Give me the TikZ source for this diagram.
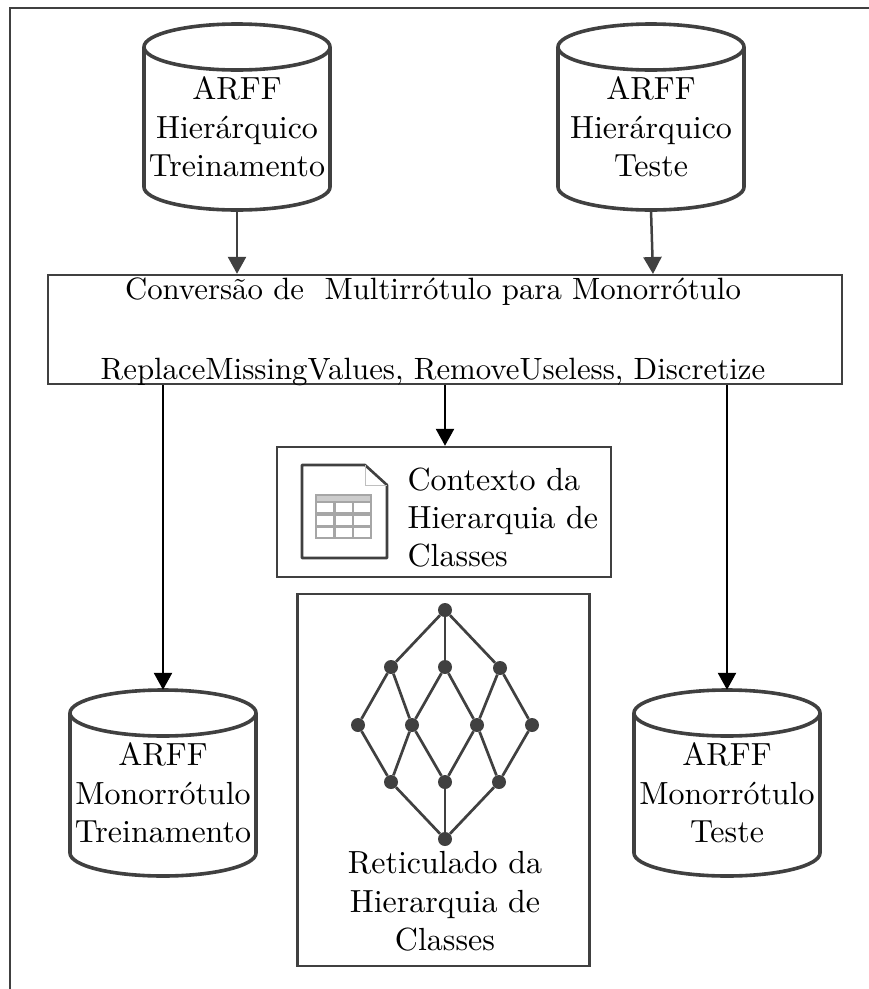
\documentclass[tikz,border=0pt]{standalone}
\usetikzlibrary{arrows.meta}
\definecolor{ink}{HTML}{404040}
\tikzset{
  flow/.style={draw=ink,line width=2.5pt,-{Triangle[length=17pt,width=18pt]}},
  flowb/.style={draw=black,line width=2.5pt,-{Triangle[length=17pt,width=18pt]}},
  box/.style={line width=2.4pt,draw=ink,fill=white,inner sep=0pt},
  lab/.style={align=center,inner sep=0pt,scale=3.2,font=\fontsize{10}{12}\selectfont},
  anchorbox/.style={inner sep=0pt},
  dot/.style={circle,fill=ink,inner sep=0pt,minimum size=14pt},
  edge/.style={draw=ink,line width=2.7pt},
  cyl/.style={draw=ink,line width=3.6pt,line join=round},
}
% name, centre x, y of the top ellipse centre, text
\newcommand{\dbshape}[4]{%
  \draw[cyl,fill=white] (#2-93,#3) arc[start angle=180,end angle=360,x radius=93,y radius=23]
    -- (#2+93,#3+140) arc[start angle=0,end angle=180,x radius=93,y radius=23] -- cycle;
  \draw[cyl] (#2-93,#3) arc[start angle=180,end angle=0,x radius=93,y radius=23];
  \node[anchorbox,minimum width=186pt,minimum height=186pt] (#1) at (#2,#3+70) {};
  \node[lab] (#1t) at (#2,#3+80) {#4};
}
\begin{document}
\begin{tikzpicture}[x=1pt,y=-1pt]
\useasboundingbox (0,0) rectangle (869,989);
\fill[white] (0,0) rectangle (869,989);
\draw[draw=ink,line width=2.4pt] (10,989) -- (10,8) -- (869,8);
\dbshape{a}{237}{47}{ARFF\\Hierárquico\\Treinamento}
\dbshape{b}{651}{47}{ARFF\\Hierárquico\\Teste}
\dbshape{c}{163}{713}{ARFF\\Monorrótulo\\Treinamento}
\dbshape{d}{727}{713}{ARFF\\Monorrótulo\\Teste}
\node[box,minimum width=794pt,minimum height=109pt] (conv) at (445,329.5) {};
\node[lab,scale=3.08/3.2] (convt) at (433,331.5) {Conversão de\ \ Multirrótulo para Monorrótulo\\[14pt]ReplaceMissingValues, RemoveUseless, Discretize};
\node[box,minimum width=334pt,minimum height=130pt] (ctx) at (444,512) {};
\node[lab,align=left,anchor=west] (ctxt) at (407,517.5) {Contexto da\\Hierarquia de\\Classes};
\node[box,minimum width=292pt,minimum height=372pt] (ret) at (443.5,780) {};
\node[lab] (rett) at (445,901.5) {Reticulado da\\Hierarquia de\\Classes};
\coordinate (bend) at (653,274);
\draw[flow] (a.south) -- (a.south |- conv.north);
\draw[flow] (b.south) -- (bend);
\draw[flowb] (conv.south -| c.north) -- (c.north);
\draw[flowb] (conv.south) -- (conv.south |- ctx.north);
\draw[flowb] (conv.south -| d.north) -- (d.north);
% icon
\draw[draw=ink,line width=2.6pt,line join=round] (302,465) -- (365,465) -- (387,485) -- (387,558) -- (302,558) -- cycle;
\draw[draw=black!25,line width=1pt] (365,465) -- (365,485) -- (387,485);
\fill[black!35] (315,494) rectangle (372,539);
\foreach \x/\w in {317/16,336/16,354/16} \foreach \y in {503,516,528} \fill[white] (\x,\y) rectangle ++(\w,9);
\fill[black!20] (317,496) rectangle (370,500.5);
% lattice
\foreach \n/\x/\y in {t/445/610,l1/391/667,l2/445/667,l3/500/668,m1/358/725,m2/412/725,m3/477/725,m4/532/725,r1/391/782,r2/445/782,r3/499/782,z/445/839}
  \node[dot] (\n) at (\x,\y) {};
\foreach \p/\q in {t/l1,t/l2,t/l3,l1/m1,l1/m2,l2/m2,l2/m3,l3/m3,l3/m4,m1/r1,m2/r1,m2/r2,m3/r2,m3/r3,m4/r3,r1/z,r2/z,r3/z}
  \draw[edge] (\p) -- (\q);
\end{tikzpicture}
\end{document}
